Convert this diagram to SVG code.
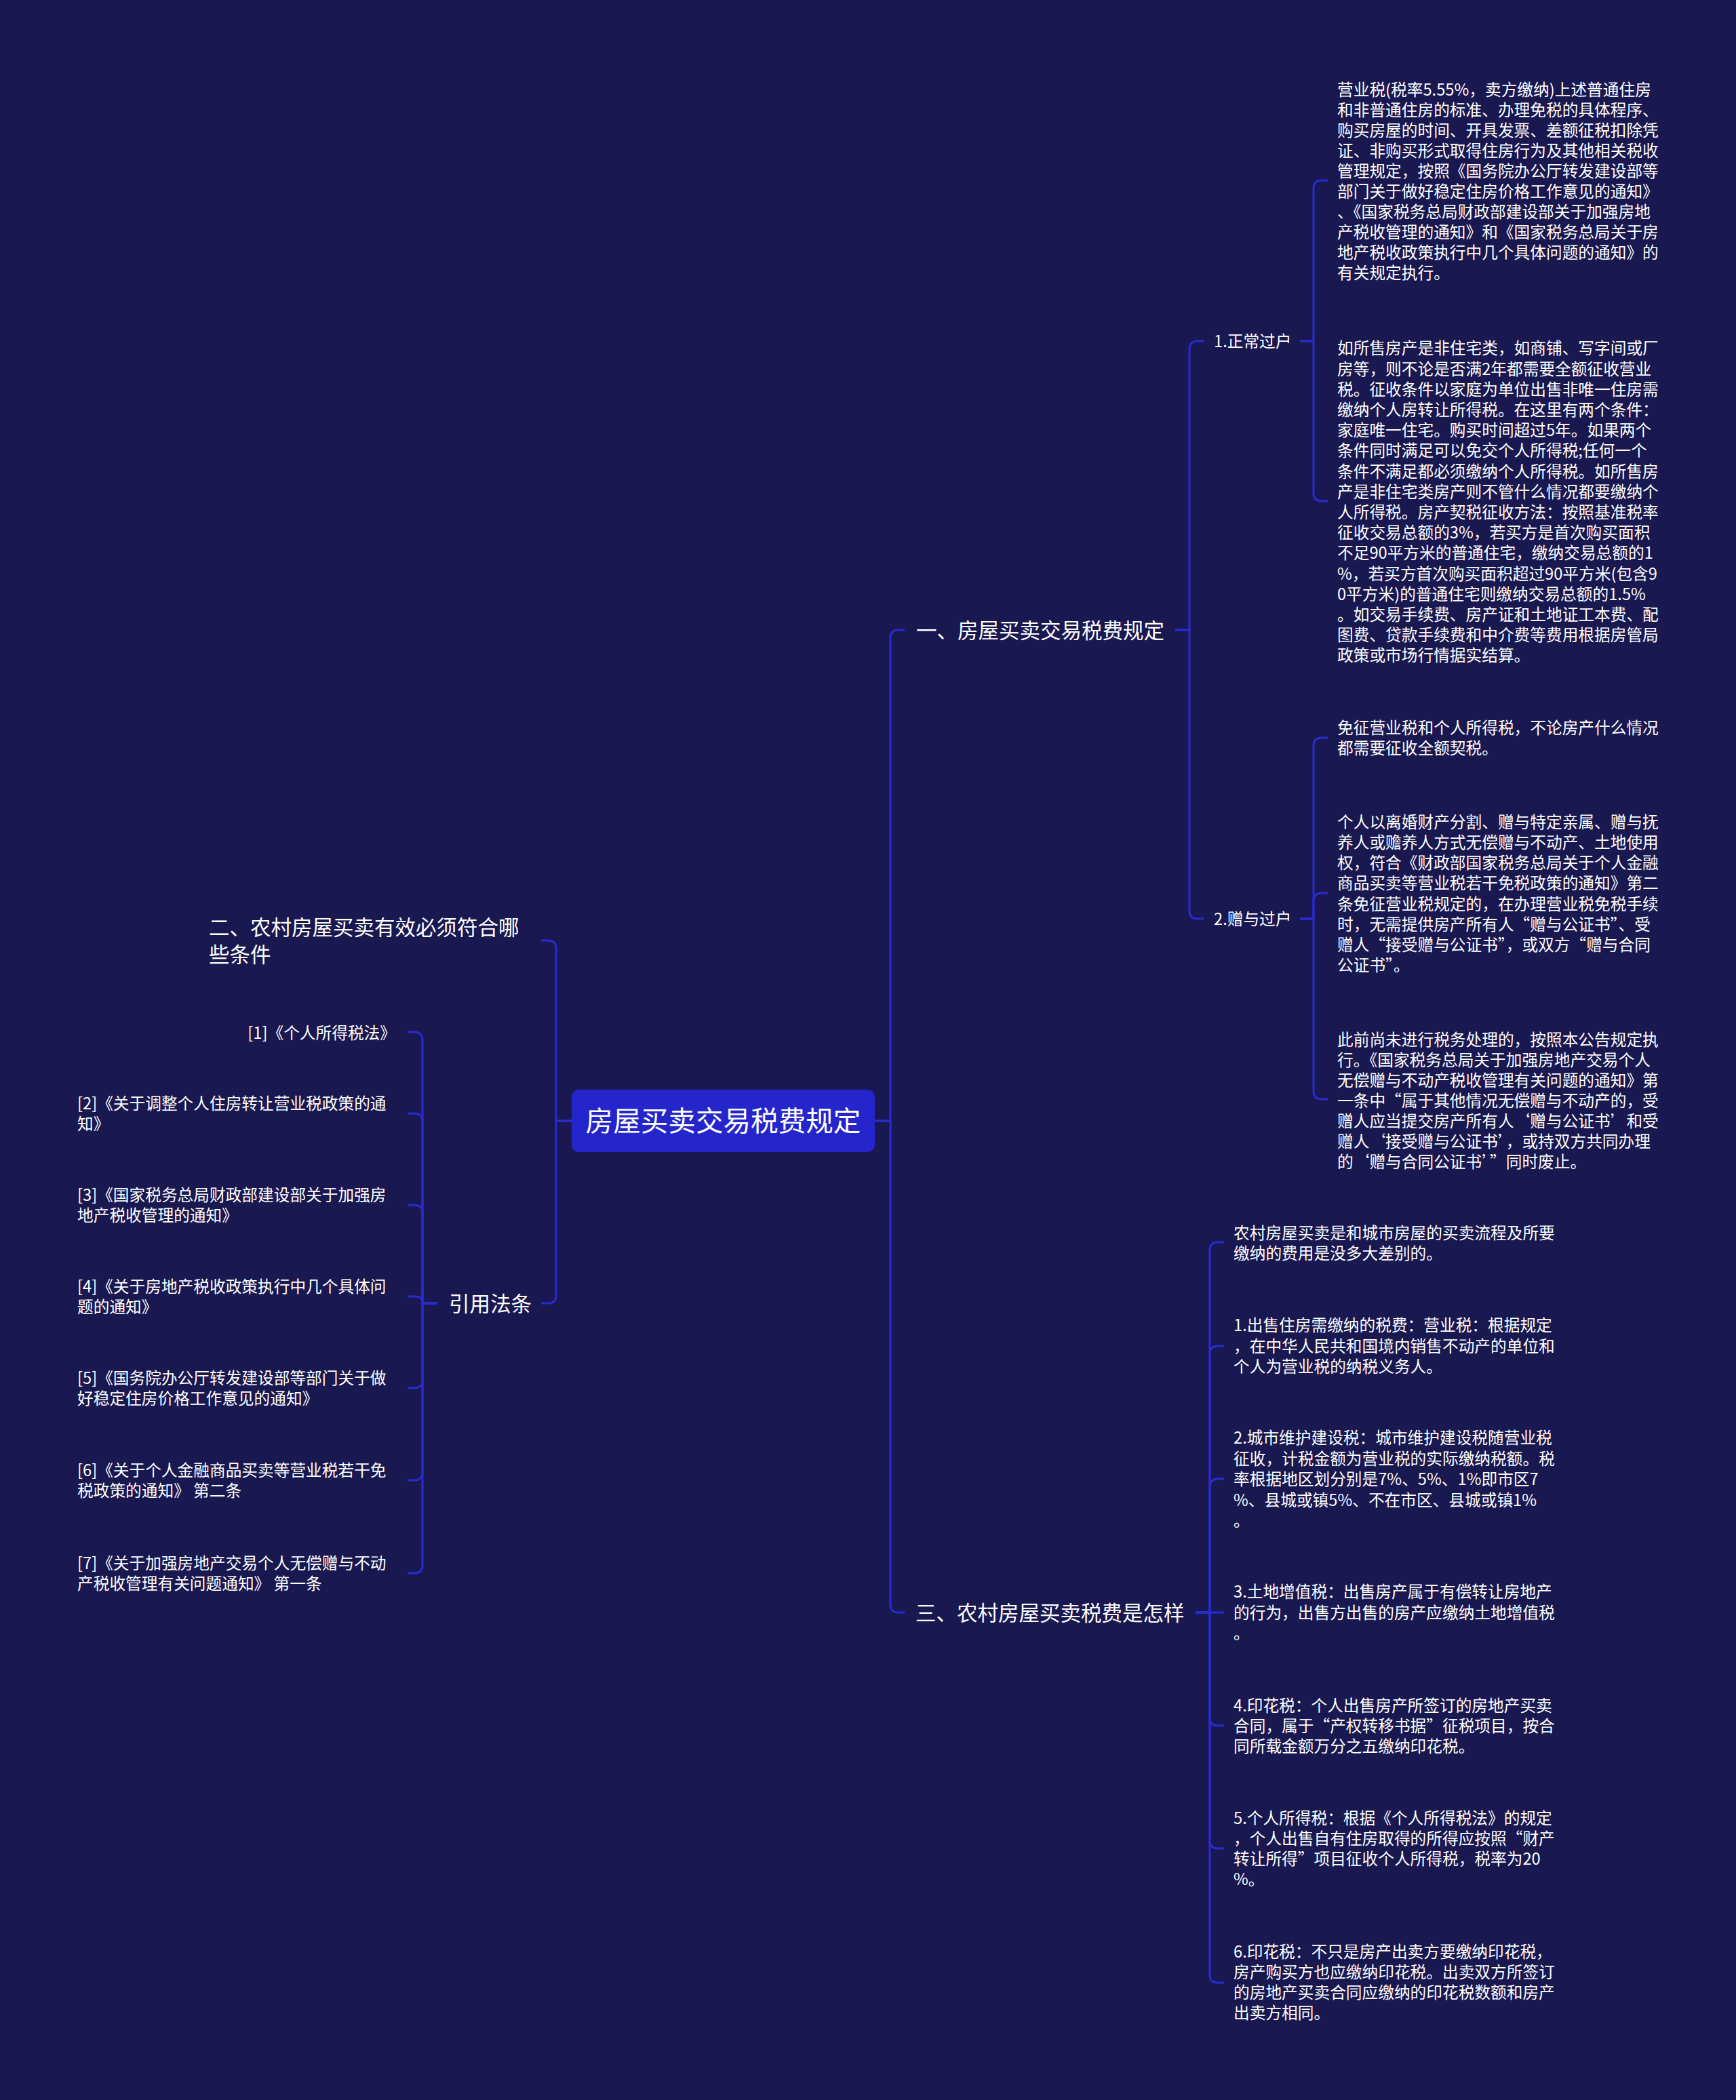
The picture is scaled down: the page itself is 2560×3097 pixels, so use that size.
<svg xmlns="http://www.w3.org/2000/svg" width="2560" height="3097" viewBox="0 0 2560 3097">
<style>
.t{font-family:"Noto Sans CJK SC","Noto Sans",sans-serif;fill:#ffffff}
.s{font-size:23.7px}
.m{font-size:30.5px}
.c{font-size:40.6px}
.ln{fill:none;stroke:#2a2ad2;stroke-width:3}
</style>
<rect x="0" y="0" width="2560" height="3097" fill="#1a1850"/>
<g id="connectors">
<path class="ln" d="M1290,1653 H1313 V941 Q1313,929 1325,929 H1334"/>
<path class="ln" d="M1290,1653 H1313 V2366 Q1313,2378 1325,2378 H1334"/>
<path class="ln" d="M1733,929 H1754 V515 Q1754,503 1766,503 H1775"/>
<path class="ln" d="M1733,929 H1754 V1343 Q1754,1355 1766,1355 H1775"/>
<path class="ln" d="M1917,503 H1937 V278 Q1937,266 1949,266 H1958"/>
<path class="ln" d="M1917,503 H1937 V727 Q1937,739 1949,739 H1958"/>
<path class="ln" d="M1917,1355 H1937 V1100 Q1937,1088 1949,1088 H1958"/>
<path class="ln" d="M1917,1355 H1937 V1329 Q1937,1317 1949,1317 H1958"/>
<path class="ln" d="M1917,1355 H1937 V1609 Q1937,1621 1949,1621 H1958"/>
<path class="ln" d="M1763,2378 H1784 V1844 Q1784,1832 1796,1832 H1805"/>
<path class="ln" d="M1763,2378 H1784 V1997 Q1784,1985 1796,1985 H1805"/>
<path class="ln" d="M1763,2378 H1784 V2193 Q1784,2181 1796,2181 H1805"/>
<path class="ln" d="M1763,2378 H1805"/>
<path class="ln" d="M1763,2378 H1784 V2533 Q1784,2545 1796,2545 H1805"/>
<path class="ln" d="M1763,2378 H1784 V2714 Q1784,2726 1796,2726 H1805"/>
<path class="ln" d="M1763,2378 H1784 V2912 Q1784,2924 1796,2924 H1805"/>
<path class="ln" d="M843,1653 H820 V1399 Q820,1387 808,1387 H798"/>
<path class="ln" d="M843,1653 H820 V1910 Q820,1922 808,1922 H798"/>
<path class="ln" d="M645,1922 H623 V1534 Q623,1522 611,1522 H601"/>
<path class="ln" d="M645,1922 H623 V1654 Q623,1642 611,1642 H601"/>
<path class="ln" d="M645,1922 H623 V1789 Q623,1777 611,1777 H601"/>
<path class="ln" d="M645,1922 H623 V1922 Q623,1912 613,1912 H601"/>
<path class="ln" d="M645,1922 H623 V2035 Q623,2047 611,2047 H601"/>
<path class="ln" d="M645,1922 H623 V2171 Q623,2183 611,2183 H601"/>
<path class="ln" d="M645,1922 H623 V2308 Q623,2320 611,2320 H601"/>
</g>
<g id="root">
<rect x="843" y="1607" width="447" height="92" rx="10" fill="#2525cc"/>
<text class="t c" x="1066.5" y="1668.4" text-anchor="middle">房屋买卖交易税费规定</text>
</g>
<g id="branch1">
<text class="t m" x="1351" y="940.6">一、房屋买卖交易税费规定</text>
</g>
<g id="branch1-1">
<text class="t s" x="1790" y="512">1.正常过户</text>
</g>
<g id="branch1-2">
<text class="t s" x="1790" y="1364">2.赠与过户</text>
</g>
<g id="leaf-a">
<text class="t s" x="1972" y="140.7"><tspan x="1972">营业税(税率5.55%，卖方缴纳)上述普通住房</tspan><tspan x="1972" dy="30">和非普通住房的标准、办理免税的具体程序、</tspan><tspan x="1972" dy="30">购买房屋的时间、开具发票、差额征税扣除凭</tspan><tspan x="1972" dy="30">证、非购买形式取得住房行为及其他相关税收</tspan><tspan x="1972" dy="30">管理规定，按照《国务院办公厅转发建设部等</tspan><tspan x="1972" dy="30">部门关于做好稳定住房价格工作意见的通知》</tspan><tspan x="1972" dy="30">、《国家税务总局财政部建设部关于加强房地</tspan><tspan x="1972" dy="30">产税收管理的通知》和《国家税务总局关于房</tspan><tspan x="1972" dy="30">地产税收政策执行中几个具体问题的通知》的</tspan><tspan x="1972" dy="30">有关规定执行。</tspan></text>
</g>
<g id="leaf-b">
<text class="t s" x="1972" y="522.3"><tspan x="1972">如所售房产是非住宅类，如商铺、写字间或厂</tspan><tspan x="1972" dy="30.2">房等，则不论是否满2年都需要全额征收营业</tspan><tspan x="1972" dy="30.2">税。征收条件以家庭为单位出售非唯一住房需</tspan><tspan x="1972" dy="30.2">缴纳个人房转让所得税。在这里有两个条件：</tspan><tspan x="1972" dy="30.2">家庭唯一住宅。购买时间超过5年。如果两个</tspan><tspan x="1972" dy="30.2">条件同时满足可以免交个人所得税;任何一个</tspan><tspan x="1972" dy="30.2">条件不满足都必须缴纳个人所得税。如所售房</tspan><tspan x="1972" dy="30.2">产是非住宅类房产则不管什么情况都要缴纳个</tspan><tspan x="1972" dy="30.2">人所得税。房产契税征收方法：按照基准税率</tspan><tspan x="1972" dy="30.2">征收交易总额的3%，若买方是首次购买面积</tspan><tspan x="1972" dy="30.2">不足90平方米的普通住宅，缴纳交易总额的1</tspan><tspan x="1972" dy="30.2">%，若买方首次购买面积超过90平方米(包含9</tspan><tspan x="1972" dy="30.2">0平方米)的普通住宅则缴纳交易总额的1.5%</tspan><tspan x="1972" dy="30.2">。如交易手续费、房产证和土地证工本费、配</tspan><tspan x="1972" dy="30.2">图费、贷款手续费和中介费等费用根据房管局</tspan><tspan x="1972" dy="30.2">政策或市场行情据实结算。</tspan></text>
</g>
<g id="leaf-c">
<text class="t s" x="1972" y="1082.3"><tspan x="1972">免征营业税和个人所得税，不论房产什么情况</tspan><tspan x="1972" dy="30">都需要征收全额契税。</tspan></text>
</g>
<g id="leaf-d">
<text class="t s" x="1972" y="1220.7"><tspan x="1972">个人以离婚财产分割、赠与特定亲属、赠与抚</tspan><tspan x="1972" dy="30.2">养人或赡养人方式无偿赠与不动产、土地使用</tspan><tspan x="1972" dy="30.2">权，符合《财政部国家税务总局关于个人金融</tspan><tspan x="1972" dy="30.2">商品买卖等营业税若干免税政策的通知》第二</tspan><tspan x="1972" dy="30.2">条免征营业税规定的，在办理营业税免税手续</tspan><tspan x="1972" dy="30.2">时，无需提供房产所有人“赠与公证书”、受</tspan><tspan x="1972" dy="30.2">赠人“接受赠与公证书”，或双方“赠与合同</tspan><tspan x="1972" dy="30.2">公证书”。</tspan></text>
</g>
<g id="leaf-e">
<text class="t s" x="1972" y="1542.3"><tspan x="1972">此前尚未进行税务处理的，按照本公告规定执</tspan><tspan x="1972" dy="30">行。《国家税务总局关于加强房地产交易个人</tspan><tspan x="1972" dy="30">无偿赠与不动产税收管理有关问题的通知》第</tspan><tspan x="1972" dy="30">一条中“属于其他情况无偿赠与不动产的，受</tspan><tspan x="1972" dy="30">赠人应当提交房产所有人‘赠与公证书’和受</tspan><tspan x="1972" dy="30">赠人‘接受赠与公证书’，或持双方共同办理</tspan><tspan x="1972" dy="30">的‘赠与合同公证书’”同时废止。</tspan></text>
</g>
<g id="branch3">
<text class="t m" x="1350" y="2389.6">三、农村房屋买卖税费是怎样</text>
</g>
<g id="leaf-3-0">
<text class="t s" x="1819" y="1827"><tspan x="1819">农村房屋买卖是和城市房屋的买卖流程及所要</tspan><tspan x="1819" dy="30">缴纳的费用是没多大差别的。</tspan></text>
</g>
<g id="leaf-3-1">
<text class="t s" x="1819" y="1963"><tspan x="1819">1.出售住房需缴纳的税费：营业税：根据规定</tspan><tspan x="1819" dy="30.5">，在中华人民共和国境内销售不动产的单位和</tspan><tspan x="1819" dy="30.5">个人为营业税的纳税义务人。</tspan></text>
</g>
<g id="leaf-3-2">
<text class="t s" x="1819" y="2129"><tspan x="1819">2.城市维护建设税：城市维护建设税随营业税</tspan><tspan x="1819" dy="30.5">征收，计税金额为营业税的实际缴纳税额。税</tspan><tspan x="1819" dy="30.5">率根据地区划分别是7%、5%、1%即市区7</tspan><tspan x="1819" dy="30.5">%、县城或镇5%、不在市区、县城或镇1%</tspan><tspan x="1819" dy="30.5">。</tspan></text>
</g>
<g id="leaf-3-3">
<text class="t s" x="1819" y="2356"><tspan x="1819">3.土地增值税：出售房产属于有偿转让房地产</tspan><tspan x="1819" dy="30.5">的行为，出售方出售的房产应缴纳土地增值税</tspan><tspan x="1819" dy="30.5">。</tspan></text>
</g>
<g id="leaf-3-4">
<text class="t s" x="1819" y="2524"><tspan x="1819">4.印花税：个人出售房产所签订的房地产买卖</tspan><tspan x="1819" dy="30">合同，属于“产权转移书据”征税项目，按合</tspan><tspan x="1819" dy="30">同所载金额万分之五缴纳印花税。</tspan></text>
</g>
<g id="leaf-3-5">
<text class="t s" x="1819" y="2690"><tspan x="1819">5.个人所得税：根据《个人所得税法》的规定</tspan><tspan x="1819" dy="30">，个人出售自有住房取得的所得应按照“财产</tspan><tspan x="1819" dy="30">转让所得”项目征收个人所得税，税率为20</tspan><tspan x="1819" dy="30">%。</tspan></text>
</g>
<g id="leaf-3-6">
<text class="t s" x="1819" y="2887"><tspan x="1819">6.印花税：不只是房产出卖方要缴纳印花税，</tspan><tspan x="1819" dy="30">房产购买方也应缴纳印花税。出卖双方所签订</tspan><tspan x="1819" dy="30">的房地产买卖合同应缴纳的印花税数额和房产</tspan><tspan x="1819" dy="30">出卖方相同。</tspan></text>
</g>
<g id="branch2">
<text class="t m" x="308" y="1378.6"><tspan x="308">二、农村房屋买卖有效必须符合哪</tspan><tspan x="308" dy="40">些条件</tspan></text>
</g>
<g id="branch4">
<text class="t m" x="662" y="1933.6">引用法条</text>
</g>
<g id="ref-1">
<text class="t s" x="584" y="1532" text-anchor="end">[1]《个人所得税法》</text>
</g>
<g id="ref-2">
<text class="t s" x="114" y="1636"><tspan x="114">[2]《关于调整个人住房转让营业税政策的通</tspan><tspan x="114" dy="30">知》</tspan></text>
</g>
<g id="ref-3">
<text class="t s" x="114" y="1771"><tspan x="114">[3]《国家税务总局财政部建设部关于加强房</tspan><tspan x="114" dy="30">地产税收管理的通知》</tspan></text>
</g>
<g id="ref-4">
<text class="t s" x="114" y="1906"><tspan x="114">[4]《关于房地产税收政策执行中几个具体问</tspan><tspan x="114" dy="30">题的通知》</tspan></text>
</g>
<g id="ref-5">
<text class="t s" x="114" y="2041"><tspan x="114">[5]《国务院办公厅转发建设部等部门关于做</tspan><tspan x="114" dy="30">好稳定住房价格工作意见的通知》</tspan></text>
</g>
<g id="ref-6">
<text class="t s" x="114" y="2177"><tspan x="114">[6]《关于个人金融商品买卖等营业税若干免</tspan><tspan x="114" dy="30">税政策的通知》 第二条</tspan></text>
</g>
<g id="ref-7">
<text class="t s" x="114" y="2314"><tspan x="114">[7]《关于加强房地产交易个人无偿赠与不动</tspan><tspan x="114" dy="30">产税收管理有关问题通知》 第一条</tspan></text>
</g>
</svg>
